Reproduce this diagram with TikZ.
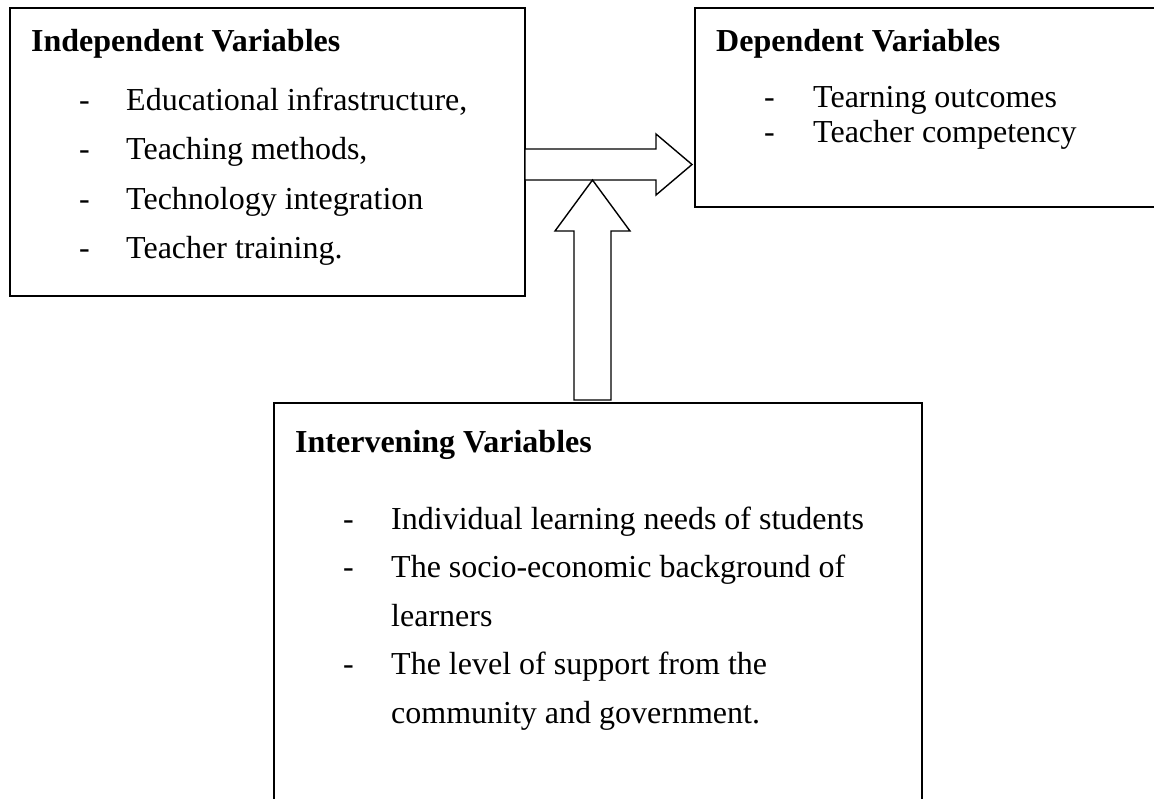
\documentclass[tikz,border=0pt]{standalone}
\usepackage{fontspec}
\setmainfont{Liberation Serif}
\begin{document}
\begin{tikzpicture}[x=1pt,y=-1pt,
  boxline/.style={draw=black,line width=1.4pt},
  blockarrow/.style={draw=black,fill=white,line width=1.4pt,line join=miter},
  head/.style={anchor=base west,inner sep=0pt,font=\fontsize{32}{38}\selectfont\bfseries},
  item/.style={anchor=base west,inner sep=0pt,font=\fontsize{32}{38}\selectfont},
  dashmark/.style={anchor=base west,inner sep=0pt,font=\fontsize{32}{38}\selectfont}]
\useasboundingbox (0,0) rectangle (1154,798);
\clip (0,0) rectangle (1154,798);
% boxes
\coordinate (b1a) at (10,8);   \coordinate (b1b) at (525,296);
\coordinate (b2a) at (695,8);  \coordinate (b2b) at (1170,207);
\coordinate (b3a) at (274,403); \coordinate (b3b) at (922,812);
\draw[boxline] (b1a) rectangle (b1b);
\draw[boxline] (b2a) rectangle (b2b);
\draw[boxline] (b3a) rectangle (b3b);
% horizontal block arrow
\coordinate (h1) at (525,149); \coordinate (h2) at (656,149);
\coordinate (h3) at (656,134); \coordinate (htip) at (692,164.5);
\coordinate (h4) at (656,195); \coordinate (h5) at (656,180);
\coordinate (h6) at (525,180);
\draw[blockarrow] (h1) -- (h2) -- (h3) -- (htip) -- (h4) -- (h5) -- (h6) -- cycle;
% vertical block arrow
\coordinate (v1) at (574,400); \coordinate (v2) at (574,231);
\coordinate (v3) at (555,231); \coordinate (vtip) at (592.5,180);
\coordinate (v4) at (630,231); \coordinate (v5) at (611,231);
\coordinate (v6) at (611,400);
\draw[blockarrow] (v1) -- (v2) -- (v3) -- (vtip) -- (v4) -- (v5) -- (v6) -- cycle;
% Independent variables
\node[head] (ih) at (31,51) {Independent Variables};
\node[dashmark] (id1) at (79,110) {-};
\node[item] (it1) at (126,110) {Educational infrastructure,};
\node[dashmark] (id2) at (79,159.5) {-};
\node[item] (it2) at (126,159.5) {Teaching methods,};
\node[dashmark] (id3) at (79,209) {-};
\node[item] (it3) at (126,209) {Technology integration};
\node[dashmark] (id4) at (79,258.5) {-};
\node[item] (it4) at (126,258.5) {Teacher training.};
% Dependent variables
\node[head] (dh) at (716,51) {Dependent Variables};
\node[dashmark] (dd1) at (764,107) {-};
\node[item] (dt1) at (813,107) {Tearning outcomes};
\node[dashmark] (dd2) at (764,142) {-};
\node[item] (dt2) at (813,142) {Teacher competency};
% Intervening variables
\node[head] (vh) at (295,452) {Intervening Variables};
\node[dashmark] (vd1) at (343,529) {-};
\node[item] (vt1) at (391,529) {Individual learning needs of students};
\node[dashmark] (vd2) at (343,577.5) {-};
\node[item] (vt2) at (391,577.5) {The socio-economic background of};
\node[item] (vt3) at (391,626) {learners};
\node[dashmark] (vd3) at (343,674.5) {-};
\node[item] (vt4) at (391,674.5) {The level of support from the};
\node[item] (vt5) at (391,723) {community and government.};
\end{tikzpicture}
\end{document}
